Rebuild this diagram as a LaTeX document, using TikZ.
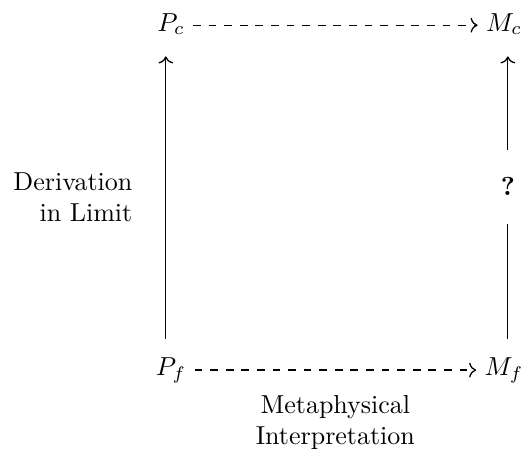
\documentclass[tikz,border=0pt]{standalone}
\usetikzlibrary{positioning,arrows.meta}
\begin{document}
\begin{tikzpicture}[>={Computer Modern Rightarrow}, line width=0.5pt, node distance=128.1pt,
    obj/.style={inner xsep=3pt, inner ysep=7pt, text height=7pt, text depth=2.5pt},
    dasharr/.style={->, dashed}]
    \useasboundingbox (-65.8pt,-163.4pt) rectangle (136.2pt,9.7pt);
    \node[obj] (Pc) {$P_c$};
    \node[obj, right of=Pc] (Mc) {$M_c$};
    \node[obj, below of=Pc, node distance=132.7pt] (Pf) {$P_f$};
    \node[obj, right of=Pf] (Mf) {$M_f$};
    \node[inner sep=0pt, minimum height=28pt, above of=Mf, node distance=70.6pt, xshift=1.5pt] (q) {\textbf{?}};

    \draw[dasharr] (Pc) -- (Mc);
    \draw[dasharr] (Pf) -- node[below=6pt, align=center] (metalbl) {Metaphysical\\Interpretation} (Mf);
    \draw[->] ([xshift=-2pt]Pf.north) -- node[left=9.3pt, align=right] (derlbl) {Derivation\\in Limit} ([xshift=-2pt]Pc.south);
    \draw (Mf.north -| q) -- (q.south);
    \draw[->] (q.north) -- (q.north |- Mc.south);
\end{tikzpicture}
\end{document}
